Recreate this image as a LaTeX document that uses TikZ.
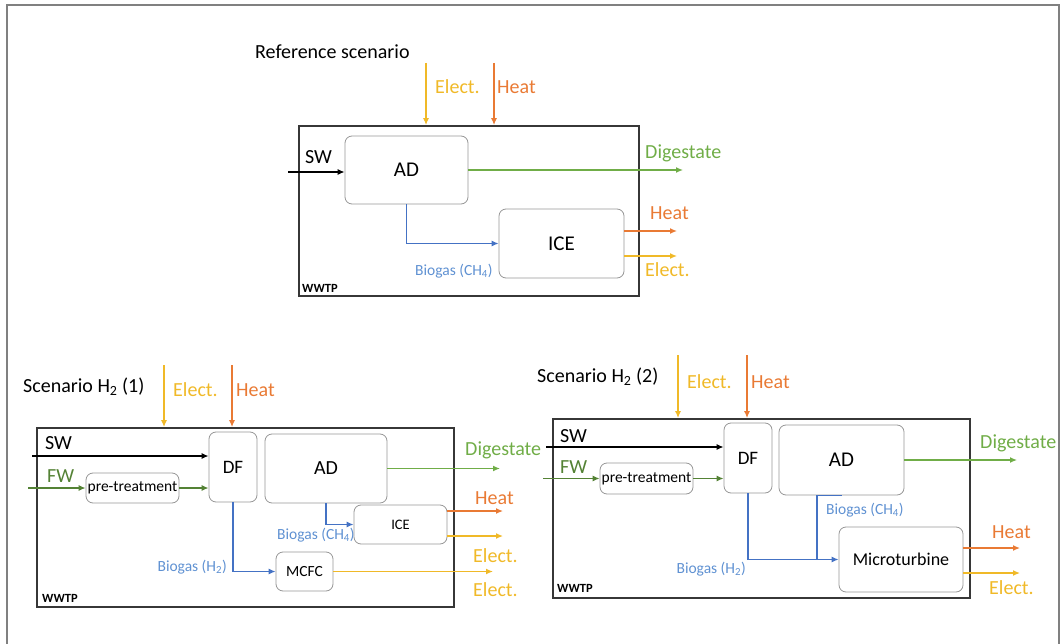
\documentclass[tikz,border=0pt]{standalone}
\usepackage{fontspec}
\setmainfont{Carlito}
\usetikzlibrary{arrows.meta}
\definecolor{electcol}{RGB}{240,185,40}
\definecolor{heatcol}{RGB}{233,122,52}
\definecolor{digcol}{RGB}{112,173,71}
\definecolor{feedcol}{RGB}{84,130,53}
\definecolor{gascol}{RGB}{68,114,196}
\definecolor{gastext}{RGB}{95,145,210}
\definecolor{framecol}{RGB}{128,128,128}
\definecolor{boxcol}{RGB}{55,55,55}
\definecolor{unitcol}{RGB}{150,150,150}

\begin{document}
\begin{tikzpicture}[x=1pt, y=-1pt, >={Latex[length=7pt,width=6pt]},
  plant/.style={draw=boxcol, line width=1.8pt},
  unit/.style={draw=unitcol, line width=0.8pt, rounded corners=7pt, inner sep=0pt},
  lbl/.style={inner sep=0pt, anchor=west, font=\fontsize{20}{24}\selectfont},
  gaslbl/.style={inner sep=0pt, text=gastext, font=\fontsize{15.5}{18}\selectfont},
  tag/.style={inner sep=0pt, anchor=west, font=\bfseries\fontsize{12.5}{15}\selectfont},
  flow/.style={->, line width=1.3pt}]

  \useasboundingbox (0,0) rectangle (1062,644);

  % Outer frame
  \draw[framecol, line width=2.5pt] (7,644) -- (7,5) -- (1059,5) -- (1059,644);

  % ---------------- Reference scenario ----------------
  \node[lbl] (tA) at (255,52) {Reference scenario};
  \node[plant, minimum width=340, minimum height=170] (wA) at (469,211) {};
  \node[tag] (gA) at (302,288) {WWTP};
  \node[unit, minimum width=123, minimum height=68, font=\fontsize{21}{25}\selectfont] (adA) at (406.5,170) {AD};
  \node[unit, minimum width=125, minimum height=69, font=\fontsize{21}{25}\selectfont] (iceA) at (561.5,243.5) {ICE};

  % Inputs from outside
  \coordinate (eAin) at (426,63);
  \coordinate (hAin) at (494,63);
  \draw[flow, electcol] (eAin) -- (eAin |- wA.north);
  \draw[flow, heatcol] (hAin) -- (hAin |- wA.north);
  \node[lbl, text=electcol] (leA) at (435,87) {Elect.};
  \node[lbl, text=heatcol] (lhA) at (497,87) {Heat};

  \coordinate (swA) at (288,172);
  \draw[flow, black] (swA) -- (swA -| adA.west);
  \node[lbl] (lswA) at (305,157) {SW};

  % Outputs
  \coordinate (dA) at (683,170);
  \draw[flow, digcol] (adA.east) -- (dA);
  \node[lbl, text=digcol] (ldA) at (645,153) {Digestate};

  \draw[flow, gascol] (adA.south) |- (iceA.west);
  \node[gaslbl, anchor=west] (lgA) at (415,271) {Biogas (CH\textsubscript{4})};

  \coordinate (hAout) at (677,231);
  \coordinate (eAout) at (677,256);
  \draw[flow, heatcol] (hAout -| iceA.east) -- (hAout);
  \draw[flow, electcol] (eAout -| iceA.east) -- (eAout);
  \node[lbl, text=heatcol] (lhAo) at (650,213) {Heat};
  \node[lbl, text=electcol] (leAo) at (645,270) {Elect.};

  % ---------------- Scenario H2 (1) ----------------
  \node[lbl] (tB) at (23,387) {Scenario H\textsubscript{2} (1)};
  \node[plant, minimum width=417, minimum height=179] (wB) at (245.5,517.5) {};
  \node[tag] (gB) at (42,598) {WWTP};
  \node[unit, minimum width=48, minimum height=70, font=\fontsize{19}{23}\selectfont] (dfB) at (233,467) {DF};
  \node[unit, minimum width=122, minimum height=69, font=\fontsize{20}{24}\selectfont] (adB) at (326,468.5) {AD};
  \node[unit, minimum width=93, minimum height=39, font=\fontsize{14.5}{17}\selectfont] (iceB) at (400.5,524.5) {ICE};
  \node[unit, minimum width=93, minimum height=30, font=\fontsize{15.5}{18}\selectfont] (preB) at (132.5,488) {pre-treatment};
  \node[unit, minimum width=57, minimum height=39, font=\fontsize{15.5}{18}\selectfont] (mcfcB) at (304.5,571.5) {MCFC};

  % Inputs from outside
  \coordinate (eBin) at (164,365);
  \coordinate (hBin) at (232,365);
  \draw[flow, electcol] (eBin) -- (eBin |- wB.north);
  \draw[flow, heatcol] (hBin) -- (hBin |- wB.north);
  \node[lbl, text=electcol] (leB) at (173,390) {Elect.};
  \node[lbl, text=heatcol] (lhB) at (236,390) {Heat};

  \coordinate (swB) at (32,456);
  \coordinate (fwB) at (28,488);
  \draw[flow, black] (swB) -- (swB -| dfB.west);
  \draw[flow, feedcol] (fwB) -- (preB.west);
  \draw[flow, feedcol] (preB.east) -- (preB.east -| dfB.west);
  \node[lbl] (lswB) at (45,443) {SW};
  \node[lbl, text=feedcol] (lfwB) at (47,476) {FW};

  % Outputs
  \coordinate (dB) at (500,468.5);
  \draw[flow, digcol] (adB.east) -- (dB);
  \node[lbl, text=digcol] (ldB) at (465,450) {Digestate};

  \draw[flow, gascol] (adB.south) |- (iceB.west);
  \node[gaslbl, anchor=west] (lgB) at (277,535) {Biogas (CH\textsubscript{4})};
  \draw[flow, gascol] (dfB.south) |- (mcfcB.west);
  \node[gaslbl, anchor=east] (lhyB) at (227,567) {Biogas (H\textsubscript{2})};

  \coordinate (hBout) at (503,511);
  \coordinate (eBout) at (503,536);
  \coordinate (mBout) at (493,571.5);
  \draw[flow, heatcol] (hBout -| iceB.east) -- (hBout);
  \draw[flow, electcol] (eBout -| iceB.east) -- (eBout);
  \draw[flow, electcol] (mcfcB.east) -- (mBout);
  \node[lbl, text=heatcol] (lhBo) at (475,498) {Heat};
  \node[lbl, text=electcol] (leBo) at (473,556) {Elect.};
  \node[lbl, text=electcol] (lmBo) at (473,590) {Elect.};

  % ---------------- Scenario H2 (2) ----------------
  \node[lbl] (tC) at (537,377) {Scenario H\textsubscript{2} (2)};
  \node[plant, minimum width=417, minimum height=179] (wC) at (761.5,508.5) {};
  \node[tag] (gC) at (557,588) {WWTP};
  \node[unit, minimum width=48, minimum height=70, font=\fontsize{19}{23}\selectfont] (dfC) at (748,458) {DF};
  \node[unit, minimum width=125, minimum height=70, font=\fontsize{21}{25}\selectfont] (adC) at (841.5,460) {AD};
  \node[unit, minimum width=93, minimum height=31, font=\fontsize{15.5}{18}\selectfont] (preC) at (646.5,478.5) {pre-treatment};
  \node[unit, minimum width=124, minimum height=65, font=\fontsize{18}{21}\selectfont] (mtC) at (901,559.5) {Microturbine};

  % Inputs from outside
  \coordinate (eCin) at (678,355);
  \coordinate (hCin) at (747,355);
  \draw[flow, electcol] (eCin) -- (eCin |- wC.north);
  \draw[flow, heatcol] (hCin) -- (hCin |- wC.north);
  \node[lbl, text=electcol] (leC) at (687,382) {Elect.};
  \node[lbl, text=heatcol] (lhC) at (751,382) {Heat};

  \coordinate (swC) at (546,447);
  \coordinate (fwC) at (543,478.5);
  \draw[flow, black] (swC) -- (swC -| dfC.west);
  \draw[flow, feedcol] (fwC) -- (preC.west);
  \draw[flow, feedcol] (preC.east) -- (preC.east -| dfC.west);
  \node[lbl] (lswC) at (560,436) {SW};
  \node[lbl, text=feedcol] (lfwC) at (560,467) {FW};

  % Outputs
  \coordinate (dC) at (1017,460);
  \draw[flow, digcol] (adC.east) -- (dC);
  \node[lbl, text=digcol] (ldC) at (980,443) {Digestate};

  \coordinate (jC) at (817,559.5);
  \draw[flow, gascol] (dfC.south) |- (mtC.west);
  \draw[gascol, line width=1.3pt] (adC.south) -| (jC);
  \node[gaslbl, anchor=west] (lgC) at (826,510) {Biogas (CH\textsubscript{4})};
  \node[gaslbl, anchor=east] (lhyC) at (746,569) {Biogas (H\textsubscript{2})};

  \coordinate (hCout) at (1020,548);
  \coordinate (eCout) at (1020,573);
  \draw[flow, heatcol] (hCout -| mtC.east) -- (hCout);
  \draw[flow, electcol] (eCout -| mtC.east) -- (eCout);
  \node[lbl, text=heatcol] (lhCo) at (992,532) {Heat};
  \node[lbl, text=electcol] (leCo) at (989,588) {Elect.};

\end{tikzpicture}
\end{document}
